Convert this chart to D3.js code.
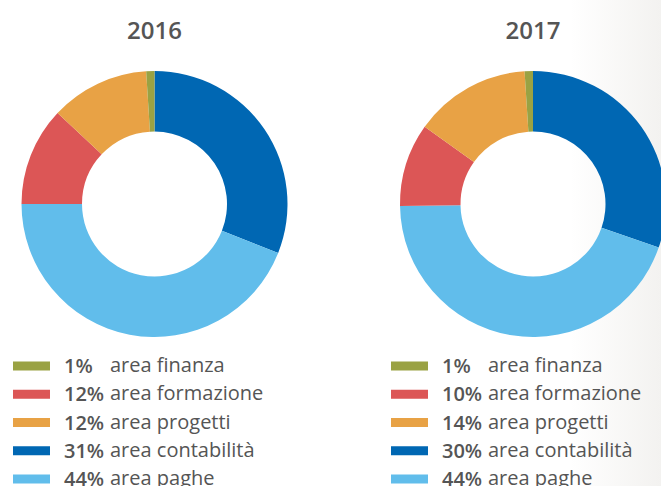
<!DOCTYPE html>
<html>
<head>
<meta charset="utf-8">
<script src="https://cdn.jsdelivr.net/npm/d3@7"></script>
<style>
  body { margin: 0; background: #fff; }
  svg { display: block; }
  text { font-family: "Open Sans", "Noto Sans", sans-serif; fill: #555; }
</style>
</head>
<body>
<svg id="chart" width="661" height="486"></svg>
<script>
// categories in clockwise order from 12 o'clock
const categories = ["area contabilità", "area paghe", "area formazione", "area progetti", "area finanza"];
const colors = ["#0067b3", "#61bdeb", "#dc5656", "#e8a245", "#9aa243"];
const years = ["2016", "2017"];
const values2016 = [31, 44, 12, 12, 1];
const values2017 = [30, 44, 10, 14, 1];
// legend order (top to bottom)
const legendOrder = ["area finanza", "area formazione", "area progetti", "area contabilità", "area paghe"];

const svg = d3.select("#chart");

// faint grey shading on the right edge
const defs = svg.append("defs");
const grad = defs.append("linearGradient").attr("id", "bg").attr("x1", 0).attr("x2", 1);
grad.append("stop").attr("offset", "0%").attr("stop-color", "#fff");
grad.append("stop").attr("offset", "100%").attr("stop-color", "#f3f2f0");
svg.append("rect").attr("x", 570).attr("y", 0).attr("width", 91).attr("height", 486).attr("fill", "url(#bg)");

const color = d3.scaleOrdinal().domain(categories).range(colors);
const pie = d3.pie().sort(null).value(d => d.value);
const arc = d3.arc().innerRadius(72.5).outerRadius(133);

const panels = [
  { year: years[0], values: values2016, cx: 154.5, lx: 13 },
  { year: years[1], values: values2017, cx: 533, lx: 391 }
];

panels.forEach(p => {
  const data = categories.map((c, i) => ({ name: c, value: p.values[i] }));
  const g = svg.append("g");

  g.append("text")
    .attr("x", p.cx).attr("y", 39)
    .attr("text-anchor", "middle")
    .attr("font-size", 24).attr("font-weight", 600)
    .text(p.year);

  g.append("g")
    .attr("transform", `translate(${p.cx},204)`)
    .selectAll("path")
    .data(pie(data))
    .join("path")
    .attr("d", arc)
    .attr("fill", d => color(d.data.name));

  const rowY = d3.scalePoint().domain(legendOrder).range([366, 479]);
  const leg = g.append("g");
  legendOrder.forEach(name => {
    const v = data.find(d => d.name === name).value;
    const y = rowY(name);
    leg.append("rect")
      .attr("x", p.lx).attr("y", y - 4.5)
      .attr("width", 37).attr("height", 9)
      .attr("fill", color(name));
    leg.append("text")
      .attr("x", p.lx + 51).attr("y", y + 7)
      .attr("font-size", 20).attr("font-weight", 600)
      .text(v + "%");
    leg.append("text")
      .attr("x", p.lx + 97).attr("y", y + 6)
      .attr("font-size", 20)
      .text(name);
  });
});
</script>
</body>
</html>
